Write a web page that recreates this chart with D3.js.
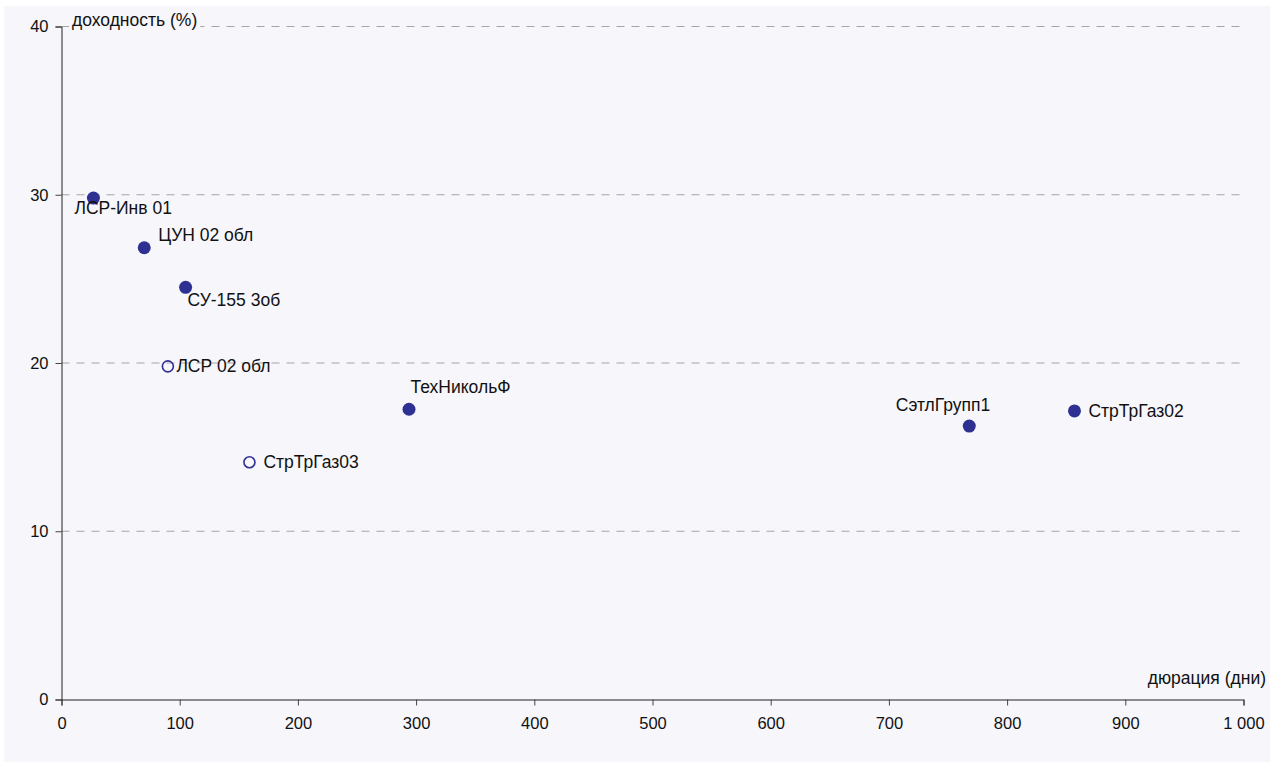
<!DOCTYPE html>
<html><head><meta charset="utf-8">
<script src="https://cdn.jsdelivr.net/npm/d3@7"></script>
<style>html,body{margin:0;padding:0;background:#fff;}svg{display:block;font-family:"Liberation Sans",Arial,sans-serif;}</style>
</head><body>
<svg id="chart" width="1274" height="762"></svg>
<script>
// ---- data ----
const bondNames = ["ЛСР-Инв 01","ЦУН 02 обл","СУ-155 3об","ЛСР 02 обл","СтрТрГаз03","ТехНикольФ","СэтлГрупп1","СтрТрГаз02"];
const durationDays = [27, 70, 105, 90, 159, 294, 768, 857];
const yieldPct = [29.8, 26.85, 24.5, 19.8, 14.1, 17.25, 16.25, 17.15];
const filledMarker = [true, true, true, false, false, true, true, true];
const labelPlacement = ["belowLeft","aboveRight","belowRight","rightTight","right","above","aboveLeft","right"];
const xTicks = [0,100,200,300,400,500,600,700,800,900,1000];
const yTicks = [0,10,20,30,40];
const xTitle = "дюрация (дни)";
const yTitle = "доходность (%)";

// ---- drawing ----
const svg = d3.select("#chart");
const bg = "#f6f6fb";
const ink = "#2e3092";
svg.append("rect").attr("x",4).attr("y",6).attr("width",1266).attr("height",756).attr("fill",bg);

const x = d3.scaleLinear().domain([0,1000]).range([61.5,1243.5]);
const y = d3.scaleLinear().domain([0,40]).range([699.5,26.5]);

// gridlines
svg.append("g").selectAll("line").data(yTicks.filter(d=>d>0)).join("line")
  .attr("x1",x(0)).attr("x2",x(1000)).attr("y1",d=>y(d)).attr("y2",d=>y(d))
  .attr("stroke","#a6a6a6").attr("stroke-width",1).attr("stroke-dasharray","8,7");

const fmt = d => d3.format(",")(d).replace(/,/g," ");
const xAxis = svg.append("g").attr("transform",`translate(0,${y(0)})`)
  .call(d3.axisBottom(x).tickValues(xTicks).tickSize(6).tickPadding(12).tickFormat(fmt));
const yAxis = svg.append("g").attr("transform",`translate(${x(0)},0)`)
  .call(d3.axisLeft(y).tickValues(yTicks).tickSize(6).tickPadding(7).tickFormat(fmt));
[xAxis,yAxis].forEach(g=>{
  g.attr("font-size",null).attr("font-family",null);
  g.select(".domain").attr("stroke","#222");
  g.selectAll(".tick line").attr("stroke","#444");
  g.selectAll(".tick text").attr("fill","#111").style("font-size","16.5px").style("font-family","'Liberation Sans', Arial, sans-serif");
});

// axis titles
const titleBg = svg.append("rect").attr("fill",bg);
const yt = svg.append("text").attr("x",72).attr("y",y(40)).attr("dy","-1").style("font-size","17.5px").attr("fill","#111").text(yTitle);
const bb = yt.node().getBBox();
titleBg.attr("x",bb.x-3).attr("y",bb.y).attr("width",bb.width+6).attr("height",bb.height);
svg.append("text").attr("x",1266).attr("y",684).attr("text-anchor","end").style("font-size","17.5px").attr("fill","#111").text(xTitle);

// points
const pts = bondNames.map((n,i)=>({n, d:durationDays[i], v:yieldPct[i], f:filledMarker[i], p:labelPlacement[i]}));
svg.append("g").selectAll("circle").data(pts).join("circle")
  .attr("cx",d=>x(d.d)).attr("cy",d=>y(d.v))
  .attr("r",d=>d.f?6.5:5.5)
  .attr("fill",d=>d.f?ink:"none")
  .attr("stroke",ink).attr("stroke-width",d=>d.f?0:1.6);

const off = {
  belowLeft:[-19,16,"start"], aboveRight:[14,-7,"start"], belowRight:[2,19,"start"],
  rightTight:[8.5,5.5,"start"], right:[14,6,"start"], above:[1.5,-16,"start"], aboveLeft:[21,-15.5,"end"]
};
svg.append("g").selectAll("text").data(pts).join("text")
  .attr("x",d=>x(d.d)+off[d.p][0]).attr("y",d=>y(d.v)+off[d.p][1])
  .attr("text-anchor",d=>off[d.p][2])
  .style("font-size","17.5px").attr("fill","#111").text(d=>d.n);
</script>
</body></html>
